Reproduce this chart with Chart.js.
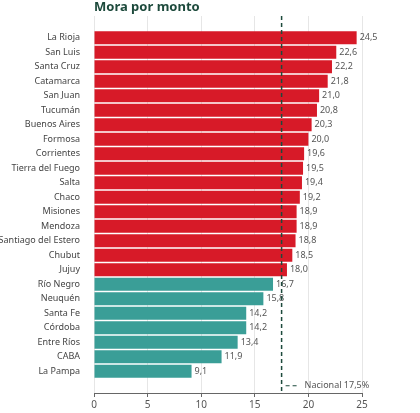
<!DOCTYPE html><html><head><meta charset="utf-8">
<script src="https://cdn.jsdelivr.net/npm/chart.js@4"></script>
<style>html,body{margin:0;background:#fff}#w{width:420px;height:413px}</style></head><body>
<div id="w"><canvas id="c"></canvas></div>
<script>
const provinces=["La Rioja","San Luis","Santa Cruz","Catamarca","San Juan","Tucumán","Buenos Aires","Formosa","Corrientes","Tierra del Fuego","Salta","Chaco","Misiones","Mendoza","Santiago del Estero","Chubut","Jujuy","Río Negro","Neuquén","Santa Fe","Córdoba","Entre Ríos","CABA","La Pampa"];
const values=[24.5,22.6,22.2,21.8,21.0,20.8,20.3,20.0,19.6,19.5,19.4,19.2,18.9,18.9,18.8,18.5,18.0,16.7,15.8,14.2,14.2,13.4,11.9,9.1];
const nacional=17.5;
const xTicks=[0,5,10,15,20,25];
const RED="#d71a28",TEAL="#3a9e97";
const labels=["",...provinces,""];
const data=[null,...values,null];
const colors=[null,...values.map(v=>v>nacional?RED:TEAL),null];
const fmt=v=>v.toFixed(1).replace('.',',');
const F="'Noto Sans', sans-serif";
const plug={id:'p',afterDatasetsDraw(ch){
 const c=ch.ctx,x=ch.scales.x,y=ch.scales.y,a=ch.chartArea;
 c.save();c.font="9px "+F;c.fillStyle="#555";c.textBaseline="middle";
 ch.getDatasetMeta(0).data.forEach((b,i)=>{if(data[i]==null)return;c.fillText(fmt(data[i]),b.x+3,b.y);});
 const nx=x.getPixelForValue(nacional);
 c.strokeStyle="#1d4a3c";c.lineWidth=1.5;c.setLineDash([4,3]);
 c.beginPath();c.moveTo(nx,a.top);c.lineTo(nx,a.bottom);c.stroke();
 const ly=y.getPixelForValue(labels.length-1);
 c.lineWidth=1;c.beginPath();c.moveTo(nx+4,ly);c.lineTo(nx+18,ly);c.stroke();
 c.setLineDash([]);c.fillStyle="#555";c.fillText("Nacional 17,5%",nx+23,ly);
 c.font="bold 13px "+F;c.fillStyle="#1d4a3c";c.textBaseline="alphabetic";c.fillText("Mora por monto",a.left,11);
 c.restore();}};
new Chart(document.getElementById('c'),{type:'bar',data:{labels,datasets:[{data,backgroundColor:colors,barPercentage:0.88,categoryPercentage:1}]},
options:{indexAxis:'y',responsive:true,maintainAspectRatio:false,animation:false,
layout:{padding:{top:16,right:58,bottom:0,left:0}},
plugins:{legend:{display:false},tooltip:{enabled:false}},
scales:{x:{min:0,max:25,afterBuildTicks(s){s.ticks=xTicks.map(v=>({value:v}));},
 grid:{color:"#e6e6e6",drawTicks:true,tickLength:4,tickColor:"#666"},border:{color:"#666"},
 ticks:{color:"#555",font:{family:F,size:10},padding:2}},
 y:{grid:{display:false},border:{display:false},afterFit(s){s.width=94;},
 ticks:{color:"#444",font:{family:F,size:9},padding:6,autoSkip:false}}}},plugins:[plug]});
</script></body></html>
